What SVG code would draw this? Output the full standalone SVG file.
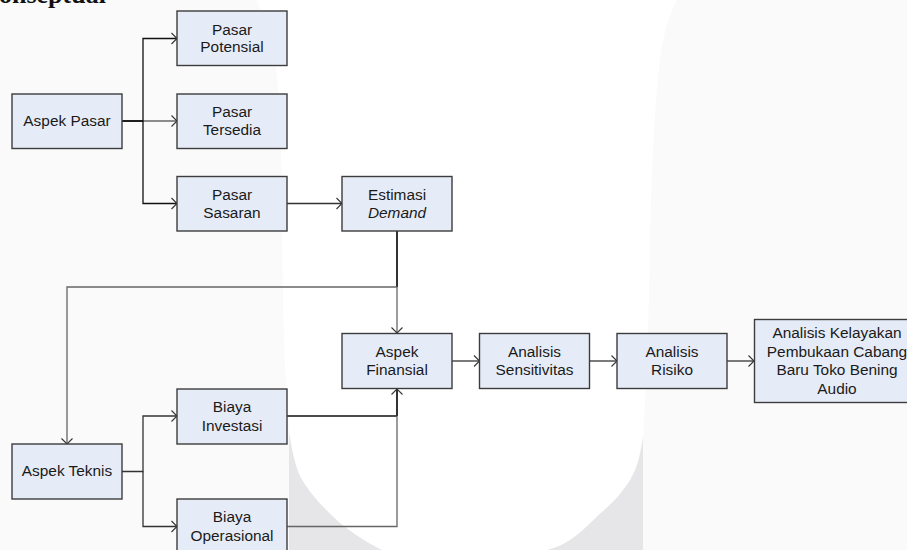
<svg xmlns="http://www.w3.org/2000/svg" width="907" height="550" viewBox="0 0 907 550">
<style>
.n rect{fill:#e6ecf7;stroke:#3c3c3c;stroke-width:1.4}
.n text{font-family:"Liberation Sans",Arial,sans-serif;font-size:15.4px;fill:#1a1a1a;text-anchor:middle}
.c path{fill:none;stroke:#333;stroke-width:1.3}
.c path.g{stroke:#666}
.c path.k{stroke:#111}
.c path.h{stroke:#333;stroke-width:2}
</style>
<defs>
<marker id="a" markerUnits="userSpaceOnUse" markerWidth="12" markerHeight="14" refX="10" refY="7" orient="auto">
<path d="M4.500 1.500L10 7L4.500 12.500" fill="none" stroke="#333" stroke-width="1.100"/>
</marker>
</defs>
<g id="background">
<rect width="907" height="550" fill="#fff"/>
<path d="M0 0H256C262 12 268 26 272 45C277 70 280 100 281 140L283 300C284 350 286 395 289 432V550H0Z" fill="#fafafa"/>
<path d="M677 0H907V550H643V440C647 380 649 300 650 250C651 180 654 110 660 60C663 35 669 15 677 0Z" fill="#fafafa"/>
<path d="M289 432C292 450 295 465 300 476C310 495 330 515 345 527C358 537 370 544 382 550H289Z" fill="#e6e6e8"/>
<path d="M643 436L642 443C640 455 638 463 635 470C631 479 628 484 623 490C617 498 611 504 603 511C590 523 582 532 570 540C562 545 555 548 547 550H643Z" fill="#e6e6e8"/>
</g>
<text id="title" x="-1" y="3" font-family="Liberation Serif,'Times New Roman',serif" font-weight="700" font-size="26px" fill="#111">onseptual</text>
<g id="connectors" class="c">
<path class="k" d="M122 121H143V38.500H177" marker-end="url(#a)"/>
<path class="g" d="M143 121H177" marker-end="url(#a)"/>
<path class="k" d="M122 121H143V203.500H177" marker-end="url(#a)"/>
<path d="M287 203.500H342" marker-end="url(#a)"/>
<path class="h" d="M397 231V287"/>
<path class="g" d="M397 287V333" marker-end="url(#a)"/>
<path class="g" d="M397 287H67V444" marker-end="url(#a)"/>
<path d="M122 471.500H143V416H177" marker-end="url(#a)"/>
<path d="M143 471.500V526.500H177" marker-end="url(#a)"/>
<path class="k" d="M287 416H397"/>
<path class="h" d="M397 416V389" marker-end="url(#a)"/>
<path class="g" d="M287 526.500H397V416"/>
<path d="M452 361H479.500" marker-end="url(#a)"/>
<path d="M590 361H617" marker-end="url(#a)"/>
<path d="M727 361H754" marker-end="url(#a)"/>
</g>
<g id="aspek-pasar" class="n"><rect x="12" y="94" width="110" height="54.500"/><text x="67" y="126">Aspek Pasar</text></g>
<g id="pasar-potensial" class="n"><rect x="177" y="11" width="110" height="54.500"/><text x="232" y="34.500">Pasar</text><text x="232" y="52.300">Potensial</text></g>
<g id="pasar-tersedia" class="n"><rect x="177" y="94" width="110" height="54.500"/><text x="232" y="117">Pasar</text><text x="232" y="135">Tersedia</text></g>
<g id="pasar-sasaran" class="n"><rect x="177" y="176.500" width="110" height="54.500"/><text x="232" y="199.500">Pasar</text><text x="232" y="217.500">Sasaran</text></g>
<g id="estimasi-demand" class="n"><rect x="342" y="176.500" width="110" height="54.500"/><text x="397" y="199.500">Estimasi</text><text x="397" y="217.500" font-style="italic">Demand</text></g>
<g id="aspek-finansial" class="n"><rect x="342" y="333.500" width="110" height="55"/><text x="397" y="357">Aspek</text><text x="397" y="375">Finansial</text></g>
<g id="analisis-sensitivitas" class="n"><rect x="479.500" y="333.500" width="110" height="55"/><text x="534.500" y="357">Analisis</text><text x="534.500" y="375">Sensitivitas</text></g>
<g id="analisis-risiko" class="n"><rect x="617" y="333.500" width="110" height="55"/><text x="672" y="357">Analisis</text><text x="672" y="375">Risiko</text></g>
<g id="analisis-kelayakan" class="n"><rect x="754.500" y="319.500" width="166" height="83"/><text x="837" y="338">Analisis Kelayakan</text><text x="837" y="357">Pembukaan Cabang</text><text x="837" y="375">Baru Toko Bening</text><text x="837" y="394">Audio</text></g>
<g id="aspek-teknis" class="n"><rect x="12" y="444" width="110" height="55"/><text x="67" y="476">Aspek Teknis</text></g>
<g id="biaya-investasi" class="n"><rect x="177" y="389" width="110" height="55"/><text x="232" y="412">Biaya</text><text x="232" y="431">Investasi</text></g>
<g id="biaya-operasional" class="n"><rect x="177" y="499" width="110" height="60"/><text x="232" y="522">Biaya</text><text x="232" y="541">Operasional</text></g>
</svg>
